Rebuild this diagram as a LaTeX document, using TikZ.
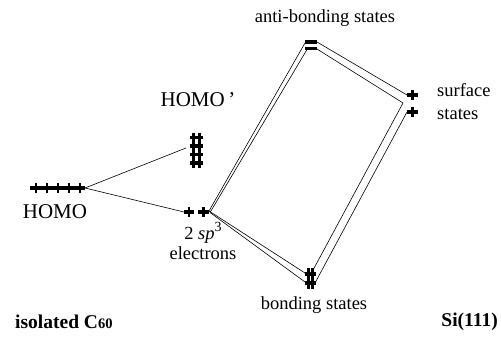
\documentclass[tikz,border=0pt]{standalone}
\usepackage{fontspec}
\setmainfont{Liberation Serif}
\begin{document}
\begin{tikzpicture}[x=1pt,y=-1pt,
  lvl/.style={line width=3.2pt},
  tck/.style={line width=2.2pt},
  conn/.style={line width=0.6pt},
  lbl/.style={font=\fontsize{18.5}{20}\selectfont, inner sep=0pt},
  biglbl/.style={font=\fontsize{21}{22}\selectfont, inner sep=0pt},
  boldlbl/.style={font=\fontsize{19.5}{21}\selectfont\bfseries, inner sep=0pt}]
\useasboundingbox (0,0) rectangle (501,355);
% HOMO level
\draw[lvl] (30,188) -- (85,188);
\foreach \x in {36,47,58,69,80} \draw[tck] (\x,183) -- (\x,193);
\coordinate (homoR) at (85,188);
% HOMO' level
\draw[tck] (193.5,133) -- (193.5,168);
\draw[tck] (199.5,133) -- (199.5,168);
\foreach \y in {137.5,146,154.5,163} \draw[lvl] (190,\y) -- (203,\y);
\coordinate (homopL) at (186,148);
% sp3 level
\draw[lvl] (184,212) -- (194,212);
\draw[tck] (189,207) -- (189,217);
\draw[lvl] (198,212) -- (209,212);
\draw[tck] (203.5,207) -- (203.5,217);
\coordinate (spL) at (184,212);
\coordinate (spR1) at (209,211);
\coordinate (spR2) at (210,212.5);
% anti-bonding
\draw[lvl] (305,42) -- (317,42);
\draw[lvl] (305,48.5) -- (317,48.5);
\coordinate (abL1) at (305,43);
\coordinate (abL2) at (307,49.5);
\coordinate (abR1) at (317,42);
\coordinate (abR2) at (317,49);
% surface states
\draw[lvl] (407,95) -- (418,95);
\draw[tck] (412.5,90) -- (412.5,100);
\draw[lvl] (407,112) -- (418,112);
\draw[tck] (412.5,107) -- (412.5,117);
\coordinate (s1) at (407,95);
\coordinate (s1b) at (403,103);
\coordinate (s2) at (407,112);
% bonding
\draw[lvl] (305,274) -- (316,274);
\draw[lvl] (305,283) -- (316,283);
\draw[tck] (308.5,268) -- (308.5,289);
\draw[tck] (312.5,268) -- (312.5,289);
\coordinate (bL1) at (305,273);
\coordinate (bL2) at (305,282);
\coordinate (bR1) at (312,272);
\coordinate (bR2) at (315,283);
% connectors
\draw[conn] (homoR) -- (homopL);
\draw[conn] (homoR) -- (spL);
\draw[conn] (spR1) -- (abL1);
\draw[conn] (spR2) -- (abL2);
\draw[conn] (spR1) -- (bL1);
\draw[conn] (spR2) -- (bL2);
\draw[conn] (abR1) -- (s1);
\draw[conn] (abR2) -- (s1b);
\draw[conn] (s1b) -- (bR1);
\draw[conn] (s2) -- (bR2);
% labels
\node[lbl] (tab) at (325,18) {anti-bonding states};
\node[biglbl] (thp) at (198,100) {HOMO\,'};
\node[biglbl] (th) at (55,212) {HOMO};
\node[lbl] (tsp) at (203,233) {2 \textit{sp}\raisebox{0.45em}{\fontsize{14}{15}\selectfont 3}};
\node[lbl] (tel) at (203,253) {electrons};
\node[lbl, anchor=west] (tsu) at (437,90) {surface};
\node[lbl, anchor=west] (tst) at (437,114) {states};
\node[lbl] (tb) at (314,305) {bonding states};
\node[boldlbl, anchor=west] (tc) at (15,322) {isolated C{\fontsize{14.5}{15}\selectfont 60}};
\node[boldlbl, anchor=east] (tsi) at (498,322) {Si(111)};
\end{tikzpicture}
\end{document}
